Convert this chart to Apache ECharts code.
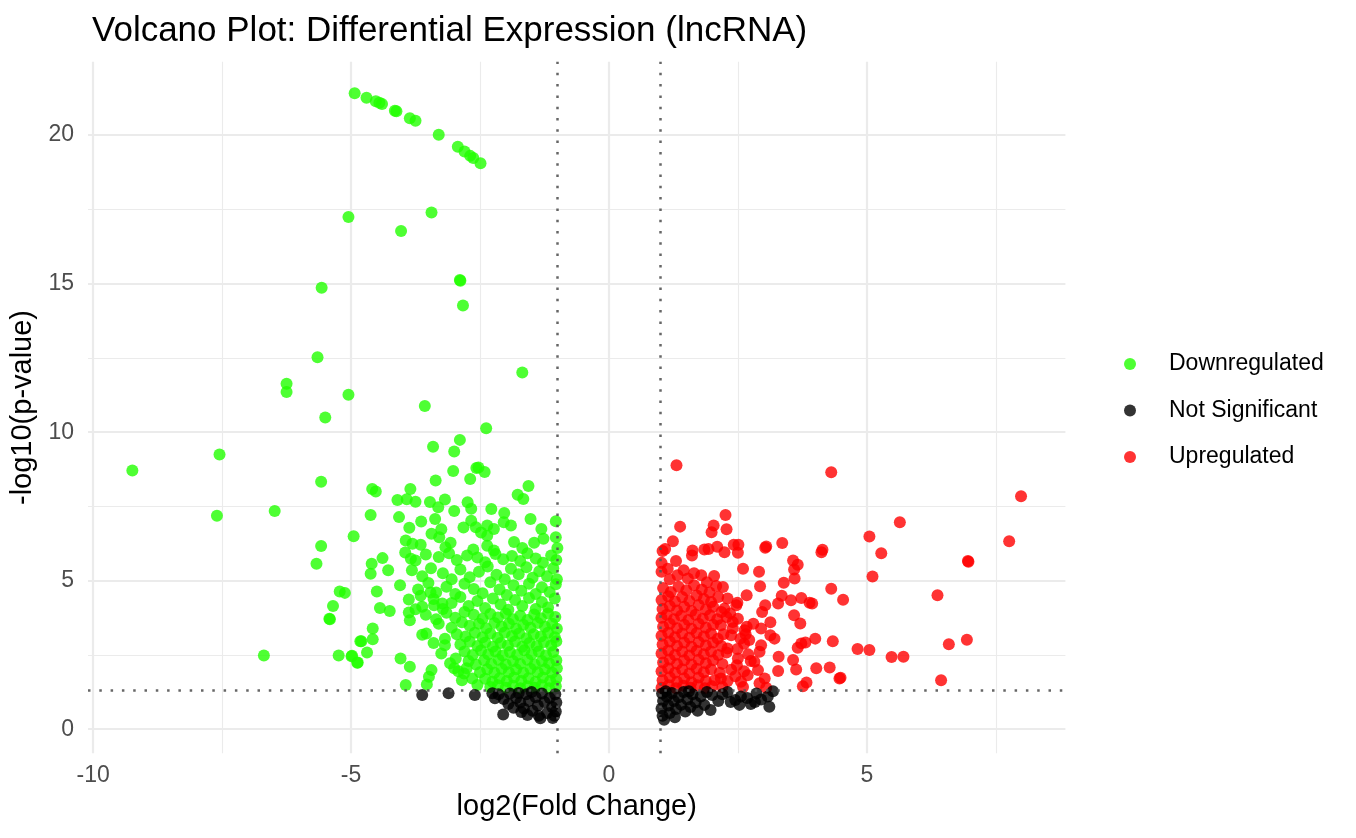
<!DOCTYPE html>
<html><head><meta charset="utf-8">
<script src="https://cdn.jsdelivr.net/npm/echarts@6/dist/echarts.min.js"></script>
<style>html,body{margin:0;padding:0;background:#fff}#c{width:1356px;height:838px}</style>
</head><body><div id="c"></div>
<script>
const titleText = 'Volcano Plot: Differential Expression (lncRNA)';
const seriesNames = ['Downregulated', 'Not Significant', 'Upregulated'];
const xTicks = [-10, -5, 0, 5];
const xMinorTicks = [-7.5, -2.5, 2.5, 7.5];
const yTicks = [0, 5, 10, 15, 20];
const yMinorTicks = [2.5, 7.5, 12.5, 17.5];
const fcCut = [-1, 1];
const pCut = 1.301;

const downregulated = [
  [-4.93,21.41],[-4.70,21.26],[-4.52,21.14],[-4.45,21.09],[-4.40,21.05],[-4.15,20.82],[-4.12,20.80],[-3.86,20.57],[-3.75,20.48],[-3.30,20.01],[-2.93,19.61],[-2.80,19.45],[-2.69,19.30],[-2.63,19.23],[-2.49,19.05],
  [-5.05,17.24],[-3.44,17.39],[-4.03,16.77],[-2.89,15.12],[-2.88,15.10],[-5.57,14.86],[-2.83,14.26],[-5.65,12.52],[-1.68,12.01],[-6.25,11.63],[-6.25,11.35],[-5.05,11.26],[-3.57,10.88],[-5.50,10.49],[-2.38,10.13],[-2.89,9.74],
  [-9.24,8.71],[-7.55,9.25],[-5.58,8.33],[-7.60,7.19],[-6.48,7.35],[-4.95,6.50],[-5.58,6.17],[-5.67,5.57],[-5.22,4.64],[-5.12,4.59],[-5.35,4.15],[-5.42,3.72],[-5.41,3.70],[-6.69,2.48],[-5.24,2.48],[-4.99,2.46],[-4.88,2.24],[-4.82,2.96],
  [-3.41,9.51],[-3.00,9.35],[-3.02,8.69],[-2.57,8.79],[-2.53,8.81],[-2.41,8.66],[-2.69,8.42],[-3.36,8.37],[-4.59,8.09],[-4.52,8.00],[-3.85,8.09],[-1.56,8.19],[-1.77,7.89],[-1.66,7.75],
  [-4.10,7.72],[-3.92,7.74],[-3.75,7.66],[-3.47,7.65],[-3.18,7.73],[-2.74,7.64],[-2.67,7.42],[-3.31,7.47],[-3.00,7.35],[-2.28,7.41],[-2.03,7.28],[-4.62,7.21],[-4.07,7.14],[-1.52,7.08],[-3.37,7.08],[-3.64,6.99],[-2.67,7.02],[-1.03,7.00],[-2.04,6.97],[-1.90,6.86],[-2.82,6.79],[-3.87,6.78],[-3.25,6.73],[-2.58,6.80],[-2.36,6.86],[-2.23,6.74],[-1.31,6.74],[-3.44,6.58],[-3.29,6.46],[-2.48,6.62],[-2.36,6.51],[-1.03,6.46],
  [-3.94,6.35],[-3.81,6.24],[-3.65,6.21],[-3.07,6.28],[-3.17,6.13],[-1.84,6.30],[-1.45,6.28],[-1.27,6.41],[-1.00,6.10],[-2.36,6.18],[-2.23,6.02],[-2.63,6.05],[-1.68,6.10],
  [-4.39,5.76],[-4.60,5.57],[-4.28,5.35],[-4.62,5.23],[-3.84,5.74],[-3.75,5.68],
  [-3.95,5.95],[-3.55,5.88],[-3.30,5.80],[-3.10,5.92],[-2.95,5.70],[-2.75,5.85],[-2.55,5.78],[-2.40,5.62],[-2.20,5.90],[-2.05,5.72],[-1.88,5.83],[-1.72,5.66],[-1.58,5.92],[-1.42,5.75],[-1.28,5.60],[-1.12,5.85],[-1.02,5.70],
  [-3.82,5.35],[-3.62,5.15],[-3.45,5.42],[-3.22,5.25],[-3.05,5.05],[-2.88,5.38],[-2.70,5.12],[-2.52,5.30],[-2.35,5.48],[-2.18,5.20],[-2.02,5.05],[-1.90,5.40],[-1.75,5.22],[-1.60,5.45],[-1.48,5.10],[-1.35,5.32],[-1.20,5.15],[-1.08,5.42],[-1.01,5.05],
  [-4.05,4.85],[-3.70,4.70],[-3.50,4.92],[-3.35,4.60],[-3.15,4.80],[-2.98,4.55],[-2.80,4.90],[-2.62,4.72],[-2.45,4.58],[-2.30,4.95],[-2.12,4.70],[-1.98,4.52],[-1.85,4.85],[-1.70,4.66],[-1.55,4.90],[-1.42,4.55],[-1.30,4.78],[-1.15,4.62],[-1.03,4.88],
  [-4.50,4.64],[-4.44,4.08],[-4.25,3.98],[-3.88,4.37],[-3.88,3.93],[-3.86,3.67],[-3.75,4.04],[-3.65,4.49],[-3.46,4.60],[-3.39,4.17],[-3.23,4.23],
  [-3.62,4.12],[-3.40,4.38],[-3.22,4.05],[-3.05,4.25],[-2.88,4.45],[-2.72,4.15],[-2.55,4.32],[-2.40,4.08],[-2.25,4.40],[-2.10,4.20],[-1.95,4.02],[-1.82,4.35],[-1.68,4.15],[-1.55,4.42],[-1.42,4.05],[-1.30,4.28],[-1.18,4.10],[-1.05,4.40],
  [-4.58,3.39],[-4.58,3.03],[-4.80,2.96],[-4.69,2.58],[-4.98,2.47],[-4.87,2.25],[-4.04,2.38],[-3.86,2.10],[-3.94,1.49],[-3.54,3.22],[-3.44,1.99],[-3.49,1.77],[-3.53,1.51],[-3.18,3.05],[-3.18,2.83],[-2.97,2.38],[-3.00,2.05],[-2.81,1.88],[-2.65,1.71],[-2.55,1.49],
  [-3.55,3.85],[-3.35,3.70],[-3.15,3.92],[-2.98,3.75],[-2.80,3.95],
  [-2.62,3.85],[-2.45,3.72],[-2.30,3.88],[-2.15,3.76],[-2.00,3.90],[-1.86,3.70],[-1.72,3.82],[-1.58,3.68],[-1.45,3.86],[-1.32,3.74],[-1.18,3.90],[-1.04,3.78],
  [-3.30,3.55],[-3.05,3.42],[-2.85,3.60],[-2.70,3.48],[-2.52,3.55],[-2.38,3.40],[-2.22,3.58],[-2.08,3.45],[-1.94,3.55],[-1.80,3.38],[-1.66,3.52],[-1.52,3.42],[-1.38,3.58],[-1.24,3.45],[-1.10,3.55],[-1.01,3.38],
  [-3.62,3.18],[-2.95,3.20],[-2.78,3.12],[-2.60,3.25],[-2.45,3.10],[-2.30,3.22],[-2.16,3.08],[-2.02,3.26],[-1.88,3.14],[-1.74,3.22],[-1.60,3.06],[-1.46,3.20],[-1.32,3.12],[-1.18,3.25],[-1.05,3.10],
  [-3.40,2.90],[-2.88,2.85],[-2.70,2.95],[-2.55,2.80],[-2.40,2.92],[-2.25,2.78],[-2.10,2.90],[-1.96,2.82],[-1.82,2.95],[-1.68,2.78],[-1.54,2.90],[-1.40,2.80],[-1.26,2.94],[-1.12,2.82],[-1.02,2.96],
  [-3.25,2.55],[-2.80,2.62],[-2.64,2.50],[-2.48,2.65],[-2.34,2.52],[-2.20,2.62],[-2.06,2.48],[-1.92,2.60],[-1.78,2.50],[-1.64,2.66],[-1.50,2.52],[-1.36,2.62],[-1.22,2.48],[-1.08,2.60],
  [-3.08,2.22],[-2.72,2.30],[-2.58,2.18],[-2.42,2.32],[-2.28,2.20],[-2.14,2.34],[-2.00,2.18],[-1.86,2.30],[-1.72,2.20],[-1.58,2.34],[-1.44,2.18],[-1.30,2.30],[-1.16,2.22],[-1.02,2.32],
  [-2.92,1.95],[-2.76,2.05],[-2.50,1.92],[-2.36,2.02],[-2.22,1.90],[-2.08,2.04],[-1.94,1.92],[-1.80,2.02],[-1.66,1.90],[-1.52,2.04],[-1.38,1.92],[-1.24,2.02],[-1.10,1.90],[-1.01,2.05],
  [-2.85,1.65],[-2.40,1.70],[-2.26,1.60],[-2.12,1.72],[-1.98,1.62],[-1.84,1.74],[-1.70,1.62],[-1.56,1.72],[-1.42,1.60],[-1.28,1.74],[-1.14,1.62],[-1.02,1.70],
  [-2.30,1.42],[-2.15,1.48],[-2.00,1.40],[-1.86,1.46],[-1.72,1.38],[-1.58,1.45],[-1.44,1.40],[-1.30,1.48],[-1.16,1.38],[-1.03,1.45]
];

const notSignificant = [
  [-3.62,1.15],[-3.11,1.21],[-2.60,1.15],[-2.26,1.21],[-2.21,1.04],[-2.05,0.50],[-1.33,0.37],[-1.09,0.38],
  [-2.14,1.18],[-2.04,1.02],[-1.95,0.85],[-1.85,0.72],[-1.92,1.20],[-1.80,1.05],[-1.72,0.90],[-1.65,0.70],[-1.60,1.18],[-1.55,0.95],[-1.48,0.62],[-1.42,1.08],[-1.38,0.80],[-1.30,1.20],[-1.25,0.92],[-1.20,0.55],[-1.15,1.05],[-1.10,0.75],[-1.04,1.18],[-1.02,0.90],[-1.03,0.60],[-1.06,0.45],[-1.70,0.58],[-1.58,0.48],[-1.75,1.22],[-1.50,1.25],[-1.36,0.45],
  [3.18,1.28],[3.08,1.10],[3.11,0.76],[2.86,1.20],[2.83,0.92],[2.56,1.10],[2.53,0.82],[2.30,1.25],[2.36,0.92],[2.00,1.15],[1.97,0.65],
  [1.03,1.20],[1.05,0.95],[1.02,0.70],[1.04,0.45],[1.07,0.32],[1.12,1.10],[1.15,0.80],[1.18,0.55],[1.22,1.22],[1.26,0.95],[1.30,0.68],[1.35,1.08],[1.40,0.82],[1.45,1.25],[1.48,0.60],[1.52,1.00],[1.58,0.75],[1.62,1.18],[1.68,0.90],[1.72,0.62],[1.78,1.10],[1.85,0.82],[1.90,1.25],[2.12,0.95],[2.20,1.18],[2.45,0.98],[2.68,1.05],[2.75,0.85],[2.95,1.00],[1.10,1.28],[1.28,0.40],[1.55,1.28]
];

const upregulated = [
  [1.31,8.89],[4.31,8.65],[7.99,7.84],[5.64,6.97],[5.05,6.49],[7.76,6.33],[5.28,5.92],[6.96,5.66],[6.97,5.64],[5.11,5.14],[4.54,4.36],[6.37,4.51],[4.82,2.70],[5.05,2.67],[6.59,2.86],[6.94,3.01],[5.48,2.43],[5.71,2.44],[4.49,1.73],[6.44,1.65],
  [2.26,7.21],[1.38,6.82],[2.03,6.86],[1.99,6.63],[2.28,6.73],[1.24,6.33],[1.04,6.00],[1.09,6.07],[1.62,6.02],[1.61,5.85],[1.85,6.05],[1.93,6.07],[2.10,6.14],[2.42,6.21],[2.51,6.21],[2.24,5.96],[2.50,5.94],[3.03,6.11],[3.05,6.15],[3.36,6.27],[4.12,5.96],[4.14,6.04],
  [1.30,5.66],[1.14,5.40],[2.60,5.40],[2.91,5.30],[3.57,5.68],[3.66,5.54],[3.59,5.38],[3.60,5.07],[4.31,4.73],[3.39,4.93],[2.93,4.81],[1.33,5.18],[1.53,5.07],[1.79,5.18],[2.04,5.16],[2.21,4.79],[2.67,4.51],[2.49,4.26],[3.03,4.17],[2.97,3.95],
  [3.28,4.23],[3.35,4.49],[3.53,4.34],[3.73,4.42],[3.89,4.26],[3.94,4.23],[3.59,3.84],[3.71,3.56],[3.13,3.60],[2.95,3.39],[2.67,3.45],[2.65,3.20],[3.21,3.05],[3.13,3.16],[4.00,3.05],[4.34,2.96],[3.66,2.74],[3.73,2.89],[3.81,2.92],[3.57,2.33],[3.63,2.01],[3.29,2.44],[3.28,1.96],[4.02,2.05],[4.28,2.08],[4.47,1.71],[3.76,1.45],[3.83,1.57],
  [2.95,2.83],[2.92,2.61],[2.82,2.27],[2.89,1.99],[2.69,1.82],[2.56,1.60],[3.02,1.71],[2.50,2.38],[2.37,2.00],[2.17,1.71],[2.05,1.65],[2.47,4.17],[2.24,4.06],[2.40,3.61],[2.63,3.33],[2.72,3.00],[2.37,3.16],[2.30,2.72],[2.49,2.70],[2.17,3.50],[2.11,3.05],
  [1.02,5.30],[1.18,5.05],[1.45,5.35],[1.65,5.25],[1.90,4.95],[1.02,5.60],
  [1.05,4.75],[1.20,4.62],[1.35,4.80],[1.50,4.68],[1.65,4.85],[1.80,4.70],[1.95,4.60],[2.08,4.82],
  [1.02,4.35],[1.15,4.48],[1.28,4.30],[1.42,4.45],[1.56,4.32],[1.70,4.50],[1.84,4.38],[1.98,4.28],[2.12,4.45],[2.30,4.40],
  [1.04,4.05],[1.18,4.15],[1.32,4.00],[1.46,4.12],[1.60,3.98],[1.74,4.18],[1.88,4.02],[2.02,4.12],[2.18,3.95],[2.35,3.90],
  [1.02,3.75],[1.12,3.85],[1.26,3.70],[1.40,3.82],[1.54,3.68],[1.68,3.85],[1.82,3.72],[1.96,3.84],[2.10,3.70],[2.28,3.78],[2.50,3.72],
  [1.05,3.45],[1.18,3.55],[1.32,3.40],[1.46,3.52],[1.60,3.38],[1.74,3.55],[1.88,3.42],[2.02,3.52],[2.40,3.40],[2.80,3.55],
  [1.02,3.15],[1.15,3.25],[1.28,3.10],[1.42,3.22],[1.56,3.08],[1.70,3.24],[1.84,3.12],[1.98,3.22],[2.22,3.20],[2.55,3.05],
  [1.04,2.85],[1.18,2.95],[1.32,2.80],[1.46,2.92],[1.60,2.78],[1.74,2.94],[1.88,2.82],[2.02,2.92],[2.18,2.80],[2.62,2.88],
  [1.02,2.55],[1.15,2.65],[1.28,2.50],[1.42,2.62],[1.56,2.48],[1.70,2.64],[1.84,2.52],[1.98,2.62],[2.12,2.50],[2.28,2.58],[2.70,2.52],
  [1.05,2.25],[1.18,2.35],[1.32,2.20],[1.46,2.32],[1.60,2.18],[1.74,2.34],[1.88,2.22],[2.02,2.32],[2.20,2.20],[2.48,2.15],[2.75,2.30],
  [1.02,1.95],[1.15,2.05],[1.28,1.90],[1.42,2.02],[1.56,1.88],[1.70,2.04],[1.84,1.92],[1.98,2.02],[2.15,1.90],[2.62,1.95],
  [1.04,1.65],[1.18,1.75],[1.32,1.60],[1.46,1.72],[1.60,1.58],[1.74,1.74],[1.88,1.62],[2.30,1.62],[2.45,1.78],[2.92,1.55],
  [1.02,1.40],[1.16,1.48],[1.30,1.38],[1.44,1.46],[1.58,1.40],[1.72,1.48],[1.86,1.38],[2.00,1.45],[2.20,1.42],[2.60,1.42],[3.05,1.40]
];

const colors = { down: '#22ff00', ns: '#000000', up: '#ff0000' };
const FONT = '"Liberation Sans", Arial, Helvetica, sans-serif';
const gridColor = '#ebebeb';

const chart = echarts.init(document.getElementById('c'), null, { renderer: 'canvas' });

const gridLines = [];
xTicks.forEach(v => gridLines.push({ xAxis: v, lineStyle: { color: gridColor, width: 2.2, type: 'solid' } }));
xMinorTicks.forEach(v => gridLines.push({ xAxis: v, lineStyle: { color: gridColor, width: 1.1, type: 'solid' } }));
yTicks.forEach(v => gridLines.push({ yAxis: v, lineStyle: { color: gridColor, width: 2.2, type: 'solid' } }));
yMinorTicks.forEach(v => gridLines.push({ yAxis: v, lineStyle: { color: gridColor, width: 1.1, type: 'solid' } }));

const cutLines = [];
fcCut.forEach(v => cutLines.push({ xAxis: v }));
cutLines.push({ yAxis: pCut });

function scatter(name, data, color, z) {
  return {
    name, type: 'scatter', data, symbol: 'circle', symbolSize: 12, z,
    itemStyle: { color, opacity: 0.8 },
    emphasis: { disabled: true }, silent: true, animation: false
  };
}

chart.setOption({
  animation: false,
  backgroundColor: '#ffffff',
  title: {
    text: titleText, left: 87, top: 9,
    textStyle: { fontFamily: FONT, fontSize: 35, fontWeight: 'normal', color: '#000' }
  },
  grid: { left: 88, right: 290.6, top: 61.7, bottom: 84.7, containLabel: false },
  legend: {
    orient: 'vertical', left: 1119, top: 347,
    data: seriesNames.map(n => ({ name: n, icon: 'circle' })),
    itemWidth: 12, itemHeight: 12, itemGap: 22.5,
    textStyle: { fontFamily: FONT, fontSize: 23, color: '#000', padding: [0, 0, 0, 28], lineHeight: 24 },
    selectedMode: false
  },
  xAxis: {
    type: 'value', min: -10.10, max: 8.85,
    name: 'log2(Fold Change)', nameLocation: 'middle', nameGap: 37,
    nameTextStyle: { fontFamily: FONT, fontSize: 29, color: '#000' },
    axisLine: { show: false }, axisTick: { show: false },
    splitLine: { show: false },
    axisLabel: { customValues: xTicks, fontFamily: FONT, fontSize: 23, color: '#4d4d4d', margin: 11 }
  },
  yAxis: {
    type: 'value', min: -0.81, max: 22.47,
    name: '-log10(p-value)', nameLocation: 'middle', nameGap: 45,
    nameTextStyle: { fontFamily: FONT, fontSize: 29, color: '#000' },
    axisLine: { show: false }, axisTick: { show: false },
    splitLine: { show: false },
    axisLabel: { customValues: yTicks, fontFamily: FONT, fontSize: 23, color: '#4d4d4d', margin: 14 }
  },
  series: [
    {
      name: '_grid', type: 'scatter', data: [], z: 0, silent: true,
      markLine: { z: 0, silent: true, symbol: ['none', 'none'], label: { show: false }, animation: false, data: gridLines }
    },
    scatter(seriesNames[0], downregulated, colors.down, 2),
    scatter(seriesNames[2], upregulated, colors.up, 2),
    scatter(seriesNames[1], notSignificant, colors.ns, 3),
    {
      name: '_cut', type: 'scatter', data: [], z: 6, silent: true,
      markLine: {
        z: 6, silent: true, symbol: ['none', 'none'], label: { show: false }, animation: false,
        lineStyle: { color: '#555555', width: 2.5, type: [2.5, 8.8], opacity: 0.9 },
        data: cutLines
      }
    }
  ]
});
</script>
</body></html>
